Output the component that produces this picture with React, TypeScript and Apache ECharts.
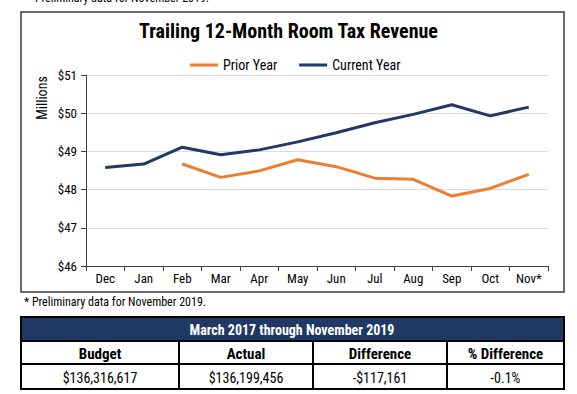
import React, { useEffect, useRef } from "react";
import * as echarts from "echarts";

const months = ["Dec", "Jan", "Feb", "Mar", "Apr", "May", "Jun", "Jul", "Aug", "Sep", "Oct", "Nov*"];
const priorYear: (number | null)[] = [null, null, 48.67, 48.32, 48.49, 48.78, 48.6, 48.3, 48.27, 47.83, 48.03, 48.4];
const currentYear: number[] = [48.58, 48.67, 49.11, 48.91, 49.04, 49.25, 49.49, 49.75, 49.97, 50.22, 49.93, 50.16];
const tableTitle = "March 2017 through November 2019";
const tableHeaders = ["Budget", "Actual", "Difference", "% Difference"];
const tableValues = ["$136,316,617", "$136,199,456", "-$117,161", "-0.1%"];
const footnote = "* Preliminary data for November 2019.";

const NARROW = '"Liberation Sans Narrow", "Arial Narrow", "Roboto Condensed", "Liberation Sans", Arial, sans-serif';
const NAVY = "#203864";
const ORANGE = "#ED7D31";

export default function App() {
  const ref = useRef<HTMLDivElement>(null);
  useEffect(() => {
    if (!ref.current) return;
    const chart = echarts.init(ref.current, undefined, { renderer: "svg" });
    const colX = [21, 179, 313, 447, 564];
    const tTop = 317, hBot = 341, r1Bot = 364, r2Bot = 389;
    const tableGraphics: any[] = [];
    tableGraphics.push({ type: "rect", shape: { x: 21, y: tTop, width: 543, height: hBot - tTop }, style: { fill: NAVY, stroke: "#000", lineWidth: 2 } });
    tableGraphics.push({ type: "rect", shape: { x: 21, y: hBot, width: 543, height: r2Bot - hBot }, style: { fill: "#fff", stroke: "#000", lineWidth: 2 } });
    tableGraphics.push({ type: "line", shape: { x1: 21, y1: r1Bot, x2: 564, y2: r1Bot }, style: { stroke: "#000", lineWidth: 2 } });
    for (let i = 1; i < 4; i++) {
      tableGraphics.push({ type: "line", shape: { x1: colX[i], y1: hBot, x2: colX[i], y2: r2Bot }, style: { stroke: "#000", lineWidth: 2 } });
    }
    tableGraphics.push({ type: "text", x: 292, y: (tTop + hBot) / 2 + 1, style: { text: tableTitle, fill: "#fff", font: `bold 14px ${NARROW}`, align: "center", verticalAlign: "middle" } });
    tableHeaders.forEach((h, i) => {
      tableGraphics.push({ type: "text", x: (colX[i] + colX[i + 1]) / 2, y: (hBot + r1Bot) / 2 + 1, style: { text: h, fill: "#000", font: `bold 15px ${NARROW}`, align: "center", verticalAlign: "middle" } });
    });
    tableValues.forEach((v, i) => {
      tableGraphics.push({ type: "text", x: (colX[i] + colX[i + 1]) / 2, y: (r1Bot + r2Bot) / 2 + 1, style: { text: v, fill: "#000", font: `14px ${NARROW}`, align: "center", verticalAlign: "middle" } });
    });

    chart.setOption({
      animation: false,
      backgroundColor: "#fff",
      title: {
        text: "Trailing 12-Month Room Tax Revenue",
        left: "center",
        top: 16,
        textStyle: { fontFamily: NARROW, fontSize: 20, fontWeight: "bold", color: "#000" },
      },
      legend: {
        top: 58,
        left: 190,
        padding: 0,
        itemWidth: 28,
        itemHeight: 3,
        itemGap: 22,
        icon: "rect",
        data: ["Prior Year", "Current Year"],
        textStyle: { fontFamily: NARROW, fontSize: 14, color: "#000" },
      },
      grid: { left: 86, top: 75, width: 462, height: 191, containLabel: false },
      xAxis: {
        type: "category",
        data: months,
        boundaryGap: true,
        axisLine: { lineStyle: { color: "#404040", width: 1 } },
        axisTick: { show: true, length: 5, lineStyle: { color: "#404040" } },
        axisLabel: { color: "#000", fontFamily: NARROW, fontSize: 13, margin: 6 },
      },
      yAxis: {
        type: "value",
        min: 46,
        max: 51,
        interval: 1,
        axisLine: { show: true, lineStyle: { color: "#404040", width: 1 } },
        axisTick: { show: true, length: 5, lineStyle: { color: "#404040" } },
        axisLabel: { color: "#000", fontFamily: NARROW, fontSize: 13, margin: 9, formatter: (v: number) => "$" + v },
        splitLine: { lineStyle: { color: "#dcdcdc", width: 1 } },
      },
      series: [
        {
          name: "Prior Year",
          type: "line",
          data: priorYear,
          color: ORANGE,
          symbol: "none",
          lineStyle: { width: 3, color: ORANGE },
          connectNulls: false,
        },
        {
          name: "Current Year",
          type: "line",
          data: currentYear,
          color: NAVY,
          symbol: "none",
          lineStyle: { width: 3, color: NAVY },
        },
      ],
      graphic: [
        { type: "rect", shape: { x: 21, y: 12, width: 543, height: 280 }, style: { fill: "none", stroke: "#3a3a3a", lineWidth: 1.5 }, z: 10 },
        { type: "text", x: 42, y: 98, rotation: Math.PI / 2, style: { text: "Millions", fill: "#000", font: `14px ${NARROW}`, align: "center", verticalAlign: "middle" } },
        { type: "text", x: 27, y: -2, style: { text: footnote, fill: "#000", font: `12px ${NARROW}`, align: "left", verticalAlign: "middle" } },
        { type: "text", x: 24, y: 302, style: { text: footnote, fill: "#000", font: `12px ${NARROW}`, align: "left", verticalAlign: "middle" } },
        ...tableGraphics,
      ],
    });
    return () => chart.dispose();
  }, []);
  return <div ref={ref} style={{ position: "absolute", left: 0, top: 0, width: 577, height: 394 }} />;
}
